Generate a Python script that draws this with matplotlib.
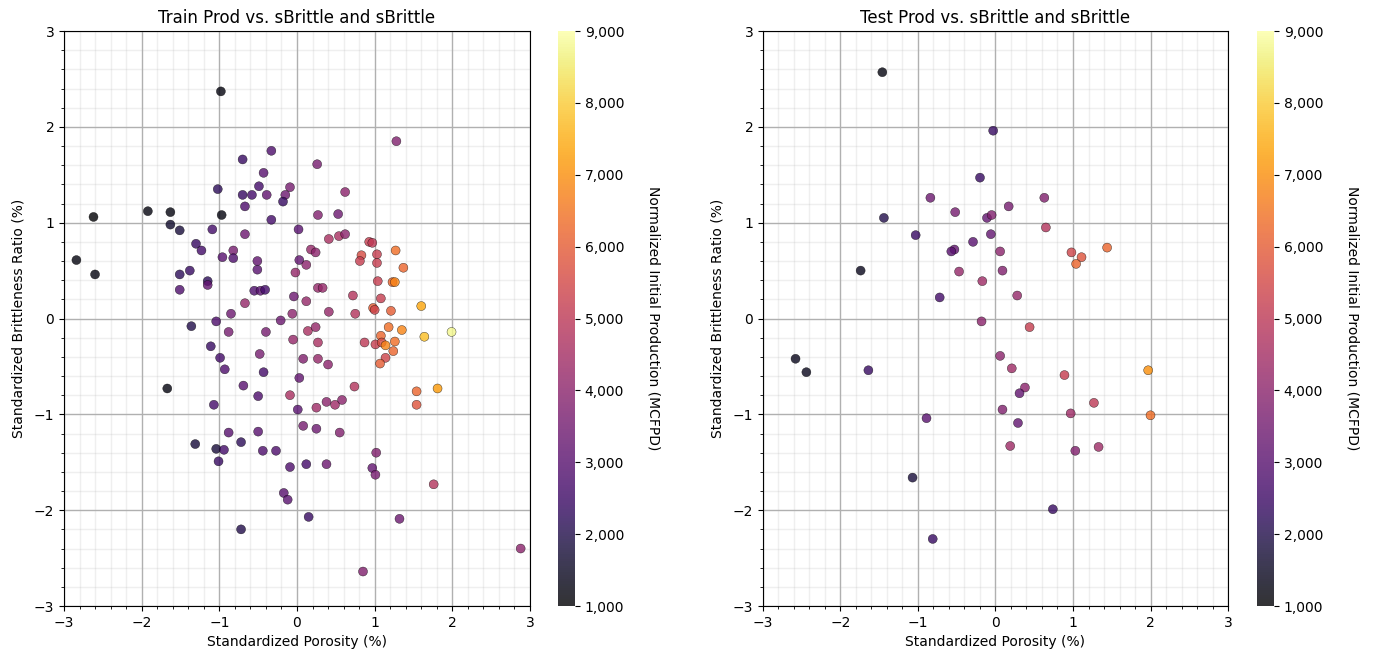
import numpy as np
import matplotlib
matplotlib.use("Agg")
import matplotlib.pyplot as plt
from matplotlib.ticker import MultipleLocator, StrMethodFormatter

# train data: standardized porosity, standardized brittleness, production
train_por = [-0.98, -0.33, -0.70, -0.43, -1.02, -0.49, -0.70, -0.58, -0.39, -0.09,
             -0.15, -0.18, -0.67, -2.62, -1.92, -1.63, -0.97, -1.63, -1.51, -0.33,
             -1.09, -0.67, -1.30, -1.23, -0.82, -2.84, -0.96, -0.82, -0.51, -0.51,
             -2.60, -1.51, -1.38, -1.15, -1.15, -1.51, -0.55, -0.47, -0.41, -0.67,
             -0.85, -0.04, -0.06, -0.21, -1.04, -0.02,
             1.28, 0.26, 0.62, 0.27, 0.53, 0.02, 0.41, 0.54, 0.62, 0.93,
             0.97, 1.27, 0.18, 0.24, 0.83, 1.03, 0.81, 1.03, 0.03, 0.12,
             1.37, 1.04, 1.23, 1.26, 0.27, 0.33, 0.12, 0.72, 1.08, 1.60,
             0.41, 0.75, 0.98, 1.00, 1.21,
             -1.36, -0.88, -0.40, -0.05, -1.11, -0.99, -0.48, -0.93, -0.43, -1.67,
             -0.69, -0.50, -0.09, -1.07, -0.88, -0.50, -1.31, -0.72, -1.04, -0.94,
             -0.44, -0.27, -1.01, -0.09, -0.17, -0.12, -0.72,
             0.14, 0.24, 1.18, 1.35, 1.64, 1.99, 1.08, 1.26, 0.27, 0.87,
             1.01, 1.09, 1.14, 1.24, 0.08, 0.27, 0.40, 1.14, 1.07, 0.03,
             0.74, 1.54, 1.81, 1.54, 0.38, 0.49, 0.58, 0.25, 0.01, 0.08,
             0.25, 0.55, 1.02, 0.97, 1.01, 1.76, 0.12, 0.38, 0.15, 1.32,
             2.88, 0.85]
train_brit = [2.37, 1.75, 1.66, 1.52, 1.35, 1.38, 1.29, 1.29, 1.29, 1.37,
              1.29, 1.22, 1.17, 1.06, 1.12, 1.11, 1.08, 0.98, 0.92, 1.03,
              0.93, 0.88, 0.78, 0.71, 0.71, 0.61, 0.64, 0.63, 0.60, 0.51,
              0.46, 0.46, 0.50, 0.39, 0.35, 0.30, 0.29, 0.29, 0.30, 0.16,
              0.05, 0.23, 0.05, -0.02, -0.03, 0.48,
              1.85, 1.61, 1.32, 1.08, 1.09, 0.93, 0.83, 0.86, 0.88, 0.80,
              0.79, 0.71, 0.72, 0.69, 0.66, 0.67, 0.60, 0.58, 0.61, 0.56,
              0.53, 0.39, 0.38, 0.38, 0.32, 0.32, 0.18, 0.24, 0.21, 0.13,
              0.07, 0.05, 0.11, 0.09, 0.08,
              -0.08, -0.14, -0.14, -0.22, -0.29, -0.41, -0.37, -0.53, -0.56, -0.73,
              -0.70, -0.81, -0.80, -0.90, -1.19, -1.18, -1.31, -1.29, -1.36, -1.37,
              -1.38, -1.38, -1.49, -1.55, -1.82, -1.89, -2.20,
              -0.13, -0.09, -0.09, -0.12, -0.19, -0.14, -0.18, -0.24, -0.25, -0.25,
              -0.27, -0.25, -0.28, -0.34, -0.42, -0.42, -0.48, -0.41, -0.47, -0.62,
              -0.71, -0.76, -0.73, -0.90, -0.87, -0.90, -0.85, -0.93, -0.95, -1.12,
              -1.15, -1.19, -1.40, -1.56, -1.63, -1.73, -1.52, -1.52, -2.07, -2.09,
              -2.40, -2.64]
train_prod = [1200, 2800, 2400, 3000, 2200, 2600, 2400, 2600, 3200, 3600,
              3400, 2400, 2800, 1000, 1200, 1200, 1200, 1600, 1800, 2600,
              2600, 3400, 2400, 2600, 3600, 1200, 3000, 2800, 3200, 3000,
              1200, 2200, 2400, 2200, 3200, 2800, 2800, 3000, 2600, 4200,
              3400, 3400, 4000, 3400, 2800, 4200,
              3800, 3600, 4000, 3800, 3400, 3000, 4600, 4600, 4000, 5200,
              5000, 6400, 4200, 4000, 5600, 5200, 5200, 5200, 3200, 4000,
              6200, 5200, 6200, 6800, 4200, 4200, 4200, 4800, 5200, 7400,
              4200, 4800, 6000, 5400, 6000,
              2000, 3600, 3600, 4200, 2400, 2600, 3600, 2800, 2600, 1200,
              3000, 2800, 4600, 2600, 3000, 3000, 1800, 2200, 1800, 2600,
              2800, 2800, 2400, 2800, 3000, 3000, 2000,
              4600, 4200, 6400, 6800, 7800, 8800, 6200, 6400, 4600, 5000,
              5200, 5600, 6800, 6200, 3800, 4200, 4000, 5400, 6000, 3200,
              4800, 6200, 7200, 5800, 4000, 4400, 4000, 4400, 3000, 3600,
              3400, 3800, 3800, 3200, 3600, 4800, 2600, 3400, 2400, 3400,
              4000, 3800]

# test data
test_por = [-1.46, -0.03, -0.20, -0.84, -0.52, -0.11, -0.05, -1.44, -1.03, -0.06,
            -0.29, -0.53, -0.57, -1.74, -0.47, -0.17, -0.72, -0.18,
            0.63, 0.17, 0.65, 0.06, 0.09, 0.28, 0.98, 1.11, 1.04, 1.44,
            -2.58, -2.44, -1.64, -0.89, -1.07, -0.81,
            0.44, 0.06, 0.21, 0.89, 1.97, 0.38, 0.31, 1.27, 0.09, 0.97,
            2.00, 0.29, 0.19, 1.03, 1.33, 0.74]
test_brit = [2.57, 1.96, 1.47, 1.26, 1.11, 1.05, 1.08, 1.05, 0.87, 0.88,
             0.80, 0.72, 0.70, 0.50, 0.49, 0.39, 0.22, -0.03,
             1.26, 1.17, 0.95, 0.70, 0.50, 0.24, 0.69, 0.64, 0.57, 0.74,
             -0.42, -0.56, -0.54, -1.04, -1.66, -2.30,
             -0.09, -0.39, -0.52, -0.59, -0.54, -0.72, -0.78, -0.88, -0.95, -0.99,
             -1.01, -1.09, -1.33, -1.38, -1.34, -1.99]
test_prod = [1200, 2400, 2400, 3400, 3600, 3200, 3800, 2000, 2400, 3200,
             3000, 3200, 3000, 1400, 4200, 4400, 2600, 4000,
             3800, 3600, 4800, 4000, 3800, 4200, 5400, 5800, 6200, 6200,
             1400, 1400, 2400, 3000, 1800, 2400,
             5200, 4000, 4400, 5200, 7000, 4000, 3200, 5000, 3800, 4400,
             6400, 3200, 4400, 3800, 4400, 2400]

fig = plt.figure(figsize=(13.73, 6.64), dpi=100)
ax1 = fig.add_axes([0.0466, 0.0873, 0.3394, 0.866])
cax1 = fig.add_axes([0.4064, 0.0873, 0.0124, 0.866])
ax2 = fig.add_axes([0.5557, 0.0873, 0.3387, 0.866])
cax2 = fig.add_axes([0.9155, 0.0873, 0.0124, 0.866])

panels = [(ax1, cax1, train_por, train_brit, train_prod, 'Train Prod vs. sBrittle and sBrittle'),
          (ax2, cax2, test_por, test_brit, test_prod, 'Test Prod vs. sBrittle and sBrittle')]

for ax, cax, xs, ys, zs, title in panels:
    sc = ax.scatter(xs, ys, c=zs, cmap='inferno', vmin=1000, vmax=9000, s=42,
                    alpha=0.8, edgecolors='black', linewidths=0.3, zorder=3)
    ax.set_xlim(-3, 3)
    ax.set_ylim(-3, 3)
    ax.xaxis.set_major_locator(MultipleLocator(1))
    ax.yaxis.set_major_locator(MultipleLocator(1))
    ax.xaxis.set_minor_locator(MultipleLocator(0.2))
    ax.yaxis.set_minor_locator(MultipleLocator(0.2))
    ax.grid(which='major', color='#b0b0b0', linewidth=1, zorder=0)
    ax.grid(which='minor', color='#b0b0b0', linewidth=1, alpha=0.2, zorder=0)
    ax.set_axisbelow(True)
    ax.set_title(title, fontsize=12)
    ax.set_xlabel('Standardized Porosity (%)')
    ax.set_ylabel('Standardized Brittleness Ratio (%)', labelpad=6)
    cb = fig.colorbar(sc, cax=cax, format=StrMethodFormatter('{x:,.0f}'))
    cb.set_label('Normalized Initial Production (MCFPD)', rotation=270, labelpad=26)
    cb.outline.set_visible(False)

fig.savefig('out.png', dpi=100)
